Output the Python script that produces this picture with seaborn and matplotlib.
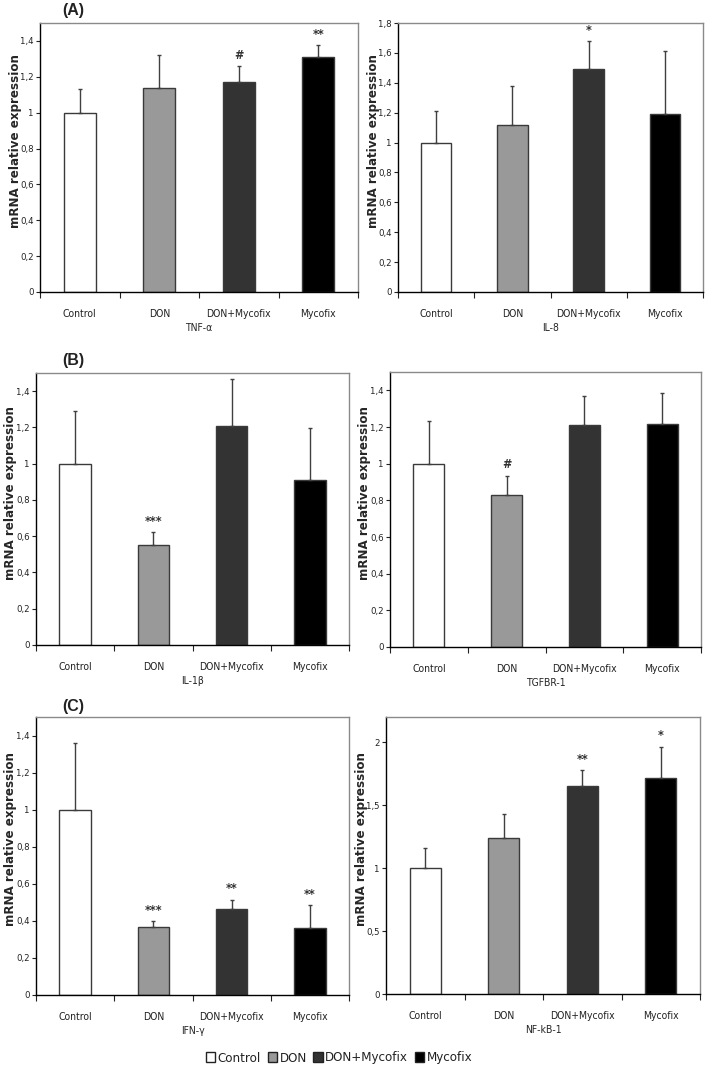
import matplotlib
matplotlib.use("Agg")
import matplotlib.pyplot as plt
import seaborn as sns
from matplotlib.patches import Patch
from matplotlib.ticker import FuncFormatter

# data
categories = ["Control", "DON", "DON+Mycofix", "Mycofix"]
colors = ["#ffffff", "#999999", "#333333", "#000000"]

tnf_mean = [1.0, 1.14, 1.17, 1.31]
tnf_err = [0.13, 0.18, 0.09, 0.065]
tnf_sig = ["", "", "#", "**"]

il8_mean = [1.0, 1.115, 1.495, 1.19]
il8_err = [0.21, 0.265, 0.185, 0.42]
il8_sig = ["", "", "*", ""]

il1b_mean = [1.0, 0.55, 1.21, 0.91]
il1b_err = [0.29, 0.075, 0.255, 0.285]
il1b_sig = ["", "***", "", ""]

tgfbr_mean = [1.0, 0.83, 1.21, 1.215]
tgfbr_err = [0.235, 0.105, 0.16, 0.17]
tgfbr_sig = ["", "#", "", ""]

ifng_mean = [1.0, 0.365, 0.465, 0.36]
ifng_err = [0.36, 0.035, 0.05, 0.125]
ifng_sig = ["", "***", "**", "**"]

nfkb_mean = [1.0, 1.24, 1.65, 1.715]
nfkb_err = [0.16, 0.19, 0.13, 0.25]
nfkb_sig = ["", "", "**", "*"]

sns.set_style("white")
plt.rcParams['font.family'] = ['DejaVu Sans']
plt.rcParams['font.stretch'] = 'condensed'
plt.rcParams['text.color'] = '#222222'
plt.rcParams['xtick.color'] = '#222222'
plt.rcParams['ytick.color'] = '#222222'

W, H = 707, 1071
fig = plt.figure(figsize=(W / 100, H / 100), dpi=100)


def box(x0, x1, y0, y1):
    # pixel box -> figure fraction
    return [x0 / W, 1 - y1 / H, (x1 - x0) / W, (y1 - y0) / H]


def panel(px, mean, err, sig, gene, ymax, step, lab_off=25):
    ax = fig.add_axes(box(*px))
    sns.barplot(x=categories, y=mean, hue=categories, palette=colors,
                width=0.4, edgecolor="#3a3a3a", linewidth=1.0,
                legend=False, ax=ax)
    pos = list(range(len(categories)))
    ax.errorbar(pos, mean, yerr=[[0] * len(err), err], fmt="none",
                ecolor="#404040", elinewidth=1.0, capsize=1.2, capthick=1.0)
    for p, m, e, s in zip(pos, mean, err, sig):
        if s:
            ax.annotate(s, (p, m + e), xytext=(0, 3), textcoords="offset points",
                        ha="center", va="bottom", fontsize=9, fontweight="bold",
                        color="#333333")
    ax.set_xlim(-0.5, 3.5)
    ax.set_ylim(0, ymax)
    yt = [i * step for i in range(int(round(ymax / step)) + 1) if i * step <= ymax + 1e-9]
    ax.set_yticks(yt)
    ax.yaxis.set_major_formatter(FuncFormatter(lambda v, _: f"{v:g}".replace(".", ",")))
    ax.set_xticks([-0.5, 0.5, 1.5, 2.5, 3.5])
    ax.set_xticklabels([])
    ax.set_xticks(pos, minor=True)
    ax.set_xticklabels(categories, minor=True)
    ax.tick_params(axis="x", which="minor", length=0, pad=12, labelsize=7.5)
    ax.tick_params(axis="x", which="major", length=4, width=0.8, direction="out", bottom=True)
    ax.tick_params(axis="y", length=3, width=0.8, direction="out", left=True, labelsize=6.8, pad=1.5)
    ax.set_xlabel(gene, fontsize=7.5, labelpad=3)
    ax.set_ylabel("mRNA relative expression", fontsize=8.6, fontweight="bold",
                  fontstretch="normal", va="center")
    wpx = px[1] - px[0]
    ax.yaxis.set_label_coords(-lab_off / wpx, 0.56)
    for side in ["top", "right"]:
        ax.spines[side].set_color("#8a8a8a")
        ax.spines[side].set_linewidth(1.0)
    for side in ["left", "bottom"]:
        ax.spines[side].set_color("#000000")
        ax.spines[side].set_linewidth(1.0)
    ax.grid(False)
    return ax


def letter(txt, y):
    fig.text(62 / W, 1 - y / H, txt, fontsize=11.5, fontweight="bold",
             family="Liberation Sans", fontstretch="normal", va="center", ha="left")


panel((40, 358, 23, 292), tnf_mean, tnf_err, tnf_sig, "TNF-α", 1.5, 0.2)
panel((398, 703, 23, 292), il8_mean, il8_err, il8_sig, "IL-8", 1.8, 0.2)
panel((36, 349, 373, 645), il1b_mean, il1b_err, il1b_sig, "IL-1β", 1.5, 0.2)
panel((390, 701, 372, 647), tgfbr_mean, tgfbr_err, tgfbr_sig, "TGFBR-1", 1.5, 0.2)
panel((36, 349, 717, 995), ifng_mean, ifng_err, ifng_sig, "IFN-γ", 1.5, 0.2)
panel((386, 700, 717, 994), nfkb_mean, nfkb_err, nfkb_sig, "NF-kB-1", 2.2, 0.5)

letter("(A)", 11)
letter("(B)", 361)
letter("(C)", 707)

handles = [Patch(facecolor=c, edgecolor="#222222", linewidth=1.0, label=l)
           for c, l in zip(colors, categories)]
fig.legend(handles=handles, loc="center", bbox_to_anchor=(339 / W, 1 - 1058 / H),
           ncol=4, frameon=False, fontsize=9.5, handlelength=0.7, handleheight=0.7,
           handletextpad=0.2, columnspacing=0.5)

fig.savefig("out.png", dpi=100)
